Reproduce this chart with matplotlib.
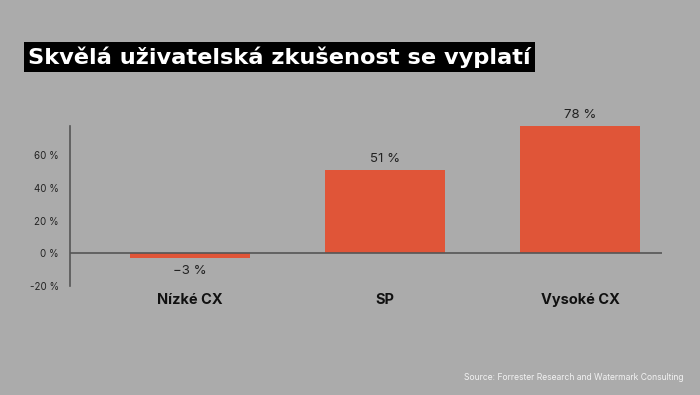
import matplotlib.pyplot as plt

# data
categories = ['Nízké CX', 'SP', 'Vysoké CX']
values = [-3, 51, 78]
value_labels = ['−3 %', '51 %', '78 %']
ytick_values = [-20, 0, 20, 40, 60]
ytick_labels = ['-20 %', '0 %', '20 %', '40 %', '60 %']

bg = '#ababab'
bar_color = '#e05538'

plt.rcParams['font.family'] = ['Inter', 'DejaVu Sans']

fig = plt.figure(figsize=(7, 3.95), dpi=100, facecolor=bg)
ax = fig.add_axes([0.1, 0.276, 0.8457, 0.405])
ax.set_facecolor(bg)

x = range(len(categories))
ax.bar(x, values, width=0.615, color=bar_color, zorder=2)
ax.axhline(0, color='#555555', linewidth=1.2, zorder=3)

for xi, v, lab in zip(x, values, value_labels):
    if v >= 0:
        ax.text(xi, v + 3, lab, ha='center', va='bottom', fontsize=9.5, color='#222222')
    else:
        ax.text(xi, v - 4, lab, ha='center', va='top', fontsize=9.5, color='#222222')

ax.set_xlim(-0.615, 2.42)
ax.set_ylim(-20, 78)
ax.set_yticks(ytick_values)
ax.set_yticklabels(ytick_labels, fontsize=7, color='#222222')
ax.set_xticks(list(x))
ax.set_xticklabels(categories, fontsize=10.5, fontweight='bold', color='#111111')
ax.tick_params(axis='y', length=0, pad=8)
ax.tick_params(axis='x', length=0, pad=5)

for s in ['top', 'right', 'bottom']:
    ax.spines[s].set_visible(False)
ax.spines['left'].set_color('#555555')
ax.spines['left'].set_linewidth(1.2)

fig.text(0.04, 0.856, 'Skvělá uživatelská zkušenost se vyplatí', fontsize=16.2,
         fontweight='bold', family=['DejaVu Sans'], color='white', va='center', ha='left',
         bbox=dict(facecolor='black', edgecolor='none', pad=3))

fig.text(0.976, 0.045, 'Source: Forrester Research and Watermark Consulting',
         fontsize=6.2, color='#f2f2f2', ha='right', va='center')

fig.savefig('out.png', dpi=100, facecolor=bg)
